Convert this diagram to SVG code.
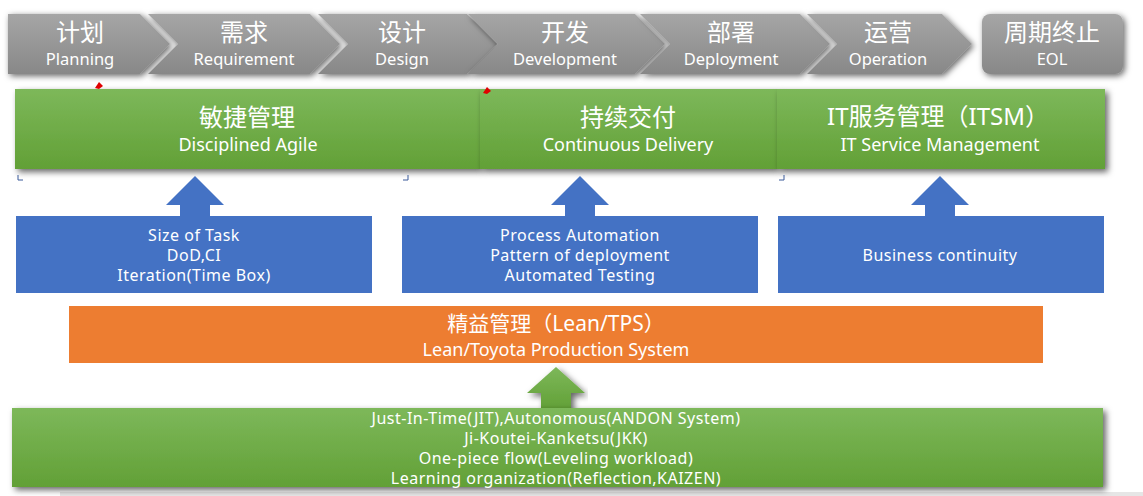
<svg xmlns="http://www.w3.org/2000/svg" width="1143" height="496" viewBox="0 0 1143 496">
<style>
.t{font-family:"Noto Sans","Noto Sans CJK SC",sans-serif;fill:#fff;text-anchor:middle}
.cn{font-size:24px}
.en{font-size:16.5px}
.b{font-size:16px;letter-spacing:0.5px}
.g{font-size:18px}
.chev{fill:url(#gray);filter:url(#sh1)}
.gbox{fill:url(#green);filter:url(#sh2)}
.blue{fill:#4472C4}
</style>
<defs>
<linearGradient id="gray" x1="0" y1="0" x2="0" y2="1">
<stop offset="0" stop-color="#a6a6a6"/><stop offset="1" stop-color="#888888"/>
</linearGradient>
<linearGradient id="green" x1="0" y1="0" x2="0" y2="1">
<stop offset="0" stop-color="#7db85a"/><stop offset="1" stop-color="#62a036"/>
</linearGradient>
<filter id="sh1" x="-10%" y="-30%" width="120%" height="160%">
<feDropShadow dx="2" dy="2" stdDeviation="3" flood-color="#000" flood-opacity="0.6"/>
</filter>
<filter id="sh2" x="-5%" y="-20%" width="110%" height="150%">
<feDropShadow dx="3" dy="3" stdDeviation="3" flood-color="#000" flood-opacity="0.6"/>
</filter>
</defs>
<rect width="1143" height="496" fill="#fff"/>
<rect x="60" y="492" width="1083" height="4" fill="#e6e6e6"/>

<g id="planning"><path class="chev" d="M8,14 H140 L170,44 L140,74 H8 Z"/><text class="t cn" x="80" y="41">计划</text><text class="t en" x="80" y="65">Planning</text></g>
<g id="requirement"><path class="chev" d="M148,14 H310 L340,44 L310,74 H148 L178,44 Z"/><text class="t cn" x="244" y="41">需求</text><text class="t en" x="244" y="65">Requirement</text></g>
<g id="design"><path class="chev" d="M318,14 H467 L497,44 L467,74 H318 L348,44 Z"/><text class="t cn" x="402" y="41">设计</text><text class="t en" x="402" y="65">Design</text></g>
<g id="development"><path class="chev" d="M468,14 H635 L665,44 L635,74 H468 L498,44 Z"/><text class="t cn" x="565" y="41">开发</text><text class="t en" x="565" y="65">Development</text></g>
<g id="deployment"><path class="chev" d="M640,14 H800 L830,44 L800,74 H640 L670,44 Z"/><text class="t cn" x="731" y="41">部署</text><text class="t en" x="731" y="65">Deployment</text></g>
<g id="operation"><path class="chev" d="M807,14 H942 L972,44 L942,74 H807 L837,44 Z"/><text class="t cn" x="888" y="41">运营</text><text class="t en" x="888" y="65">Operation</text></g>
<g id="eol"><rect class="chev" x="982" y="14" width="141" height="60" rx="8"/><text class="t cn" x="1052" y="41">周期终止</text><text class="t en" x="1052" y="65">EOL</text></g>

<g id="agile"><rect class="gbox" x="15" y="89" width="465" height="80"/><text class="t cn" x="247" y="126">敏捷管理</text><text class="t g" x="248" y="151">Disciplined Agile</text></g>
<g id="cd"><rect class="gbox" x="480" y="89" width="297" height="80"/><text class="t cn" x="628" y="126">持续交付</text><text class="t g" x="628" y="151">Continuous Delivery</text></g>
<g id="itsm"><rect class="gbox" x="777" y="89" width="328" height="80"/><text class="t cn" x="938" y="125">IT服务管理（ITSM）</text><text class="t g" x="940" y="151">IT Service Management</text></g>

<g id="artifacts" fill="none" stroke="#3a5a9a" stroke-width="1">
<path d="M18,175 V180 H23"/><path d="M403,180 H408 V175"/><path d="M779,180 H784 V175"/>
<rect x="69.5" y="306.5" width="5" height="5" stroke="#b05a20"/>
<path d="M95,88 L99,82 L103,86 L99,89 Z" fill="#e00000" stroke="none"/>
<path d="M483,93 L487,87 L491,91 L487,94 Z" fill="#e00000" stroke="none"/>
</g>

<g id="connectors">
<polygon class="blue" points="195,176 224,205 210,205 210,217 180,217 180,205 166,205"/>
<polygon class="blue" points="580,176 609,205 595,205 595,217 565,217 565,205 551,205"/>
<polygon class="blue" points="940,176 969,205 955,205 955,217 925,217 925,205 911,205"/>
<polygon class="gbox" points="556,367 585,393 571,393 571,410 541,410 541,393 527,393"/>
</g>

<g id="size"><rect class="blue" x="16" y="216" width="356" height="77"/><text class="t b" x="194" y="241">Size of Task</text><text class="t b" x="194" y="261">DoD,CI</text><text class="t b" x="194" y="281">Iteration(Time Box)</text></g>
<g id="process"><rect class="blue" x="402" y="216" width="356" height="77"/><text class="t b" x="580" y="241">Process Automation</text><text class="t b" x="580" y="261">Pattern of deployment</text><text class="t b" x="580" y="281">Automated Testing</text></g>
<g id="business"><rect class="blue" x="778" y="216" width="326" height="77"/><text class="t b" x="940" y="261">Business continuity</text></g>

<g id="lean"><rect x="69" y="306" width="974" height="57" fill="#ED7D31"/><text class="t" x="556" y="331" font-size="21px">精益管理（Lean/TPS）</text><text class="t g" x="556" y="356">Lean/Toyota Production System</text></g>

<g id="tps"><rect class="gbox" x="12" y="408" width="1091" height="79"/>
<text class="t b" x="556" y="424">Just-In-Time(JIT),Autonomous(ANDON System)</text>
<text class="t b" x="556" y="444">Ji-Koutei-Kanketsu(JKK)</text>
<text class="t b" x="556" y="464">One-piece flow(Leveling workload)</text>
<text class="t b" x="556" y="484">Learning organization(Reflection,KAIZEN)</text></g>
</svg>
